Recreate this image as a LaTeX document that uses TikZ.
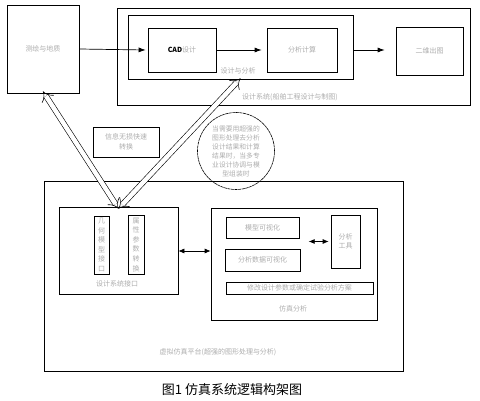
\documentclass[tikz,border=0pt]{standalone}
\usepackage{fontspec}
\setmainfont{Noto Sans CJK SC}
\usetikzlibrary{arrows.meta,positioning}

\tikzset{
  blk/.style={draw, line width=0.7pt, inner sep=0pt},
  lbl/.style={text=gray!65, font=\fontsize{7}{9}\selectfont},
  vtxt/.style={lbl, align=center, font=\fontsize{7}{9.6}\selectfont},
  flow/.style={line width=0.7pt, -{Latex[length=7pt,width=5pt]}},
  both/.style={line width=0.7pt, {Latex[length=6pt,width=5pt]}-{Latex[length=6pt,width=5pt]}},
  hollow/.style={double, line width=0.6pt, double distance=4.5pt,
    {Implies[length=8pt,width=15pt]}-{Implies[length=8pt,width=15pt]}}
}

\begin{document}
\begin{tikzpicture}[x=1pt, y=-1pt]
    \useasboundingbox (0,0) rectangle (480,401);

    % design side
    \node[blk, minimum width=72pt, minimum height=88pt, lbl] (survey) at (43,49) {测绘与地质};
    \node[blk, minimum width=353pt, minimum height=97pt] (designsys) at (293.5,56.5) {};
    \node[blk, minimum width=225pt, minimum height=64pt] (desana) at (240.5,47) {};
    \node[blk, minimum width=68pt, minimum height=44pt, lbl] (cad) at (182,50) {\textcolor{black}{\textbf{CAD}}设计};
    \node[blk, minimum width=70pt, minimum height=44pt, lbl] (calc) at (302,50) {分析计算};
    \node[blk, minimum width=67pt, minimum height=48pt, lbl] (draw2d) at (429.5,51) {二维出图};
    \node[lbl] (desanalbl) at (238,71) {设计与分析};
    \node[lbl] (designlbl) at (290,97) {设计系统(船舶工程设计与制图)};

    \draw[flow] (survey.east) -- ([xshift=-2pt]cad.west);
    \draw[flow] (cad.east) -- ([xshift=-5pt]calc.west);
    \draw[flow] (desana.east |- calc.east) -- ([xshift=-11pt]draw2d.west |- calc.east);

    % notes
    \node[blk, minimum width=66pt, minimum height=30pt, vtxt] (info) at (126,142) {信息无损快速\\转换};
    \node[draw, dashed, dash pattern=on 3pt off 0.6pt, line width=0.6pt, circle, minimum size=77pt,
      inner sep=0pt, vtxt, font=\fontsize{6.8}{9}\selectfont] (note) at (236,151)
      {当需要用超强的\\图形处理去分析\\设计结果和计算\\结果时，当多专\\业设计协调与模\\型组装时};

    % simulation side
    \node[blk, minimum width=359pt, minimum height=190pt] (simplat) at (223.5,276) {};
    \node[lbl] (simplatlbl) at (218,352) {虚拟仿真平台(超强的图形处理与分析)};
    \node[blk, minimum width=119pt, minimum height=87pt] (iface) at (118.5,250.5) {};
    \node[lbl] (ifacelbl) at (117,284) {设计系统接口};
    \node[blk, minimum width=15pt, minimum height=58pt, vtxt] (geo) at (101.5,245) {几\\何\\模\\型\\接\\口};
    \node[blk, minimum width=16pt, minimum height=59pt, vtxt] (attr) at (136,244.5) {属\\性\\参\\数\\转\\换};

    \node[blk, minimum width=166pt, minimum height=112pt] (simana) at (294,264) {};
    \node[lbl] (simanalbl) at (293,309) {仿真分析};
    \node[blk, minimum width=73pt, minimum height=21pt, lbl] (modvis) at (262.5,227.5) {模型可视化};
    \node[blk, minimum width=75pt, minimum height=22pt, lbl] (datavis) at (262.5,260) {分析数据可视化};
    \node[blk, minimum width=29pt, minimum height=53pt, vtxt] (tool) at (345.5,241.5) {分析\\工具};
    \node[blk, minimum width=147pt, minimum height=12pt, lbl] (modify) at (299.5,288) {修改设计参数或确定试验分析方案};

    \draw[both] (iface.east |- 0,251) -- (simana.west |- 0,251);
    \draw[both] ([xshift=-22pt]tool.west) -- ([xshift=-2pt]tool.west);

    % information exchange
    \draw[hollow] ([yshift=2pt]survey.south) -- ([yshift=-2pt]iface.north);
    \draw[hollow] ([yshift=-2pt]iface.north) -- ([yshift=1pt]desana.south);

    \node[font=\fontsize{13}{15}\selectfont] (caption) at (232,390) {图1\ 仿真系统逻辑构架图};
\end{tikzpicture}
\end{document}
